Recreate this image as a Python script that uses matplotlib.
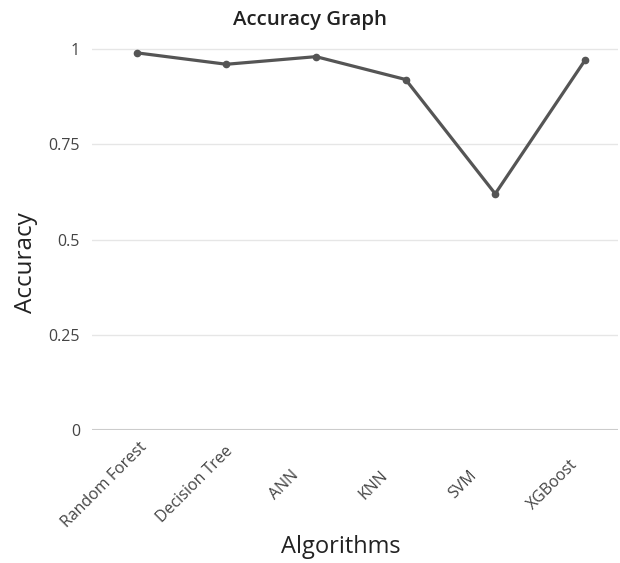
import matplotlib.pyplot as plt
from matplotlib.transforms import ScaledTranslation

algorithms = ['Random Forest', 'Decision Tree', 'ANN', 'KNN', 'SVM', 'XGBoost']
accuracy = [0.99, 0.96, 0.98, 0.92, 0.62, 0.97]
y_ticks = [0, 0.25, 0.5, 0.75, 1]
y_tick_labels = ['0', '0.25', '0.5', '0.75', '1']

plt.rcParams['font.family'] = ['Open Sans', 'DejaVu Sans']

W, H = 620, 563
fig = plt.figure(figsize=(W / 100, H / 100), dpi=100)
ax = fig.add_axes([92 / W, 133 / H, 526 / W, 392.4 / H])

x = list(range(len(algorithms)))
ax.plot(x, accuracy, color='#555555', linewidth=2.3, marker='o', markersize=4.5, zorder=3)

ax.set_xlim(-0.5, 5.37)
ax.set_ylim(0, 1.03)

ax.set_yticks(y_ticks)
ax.set_yticklabels(y_tick_labels)
ax.set_xticks(x)
ax.set_xticklabels(algorithms, rotation=45, ha='center', va='center', rotation_mode='anchor')

# grid like the plotly default
ax.yaxis.grid(True, color='#e6e6e6', linewidth=1)
ax.xaxis.grid(False)
ax.axhline(0, color='#cccccc', linewidth=1.5, zorder=2)
for s in ax.spines.values():
    s.set_visible(False)
ax.tick_params(axis='both', length=0, labelsize=11.5, colors='#444444')
ax.tick_params(axis='y', pad=8.6)
ax.tick_params(axis='x', pad=39.5)

# shift rotated labels to the left so they sit like in the original
shift = ScaledTranslation(-32 / 100, 0, fig.dpi_scale_trans)
for lbl in ax.get_xticklabels():
    lbl.set_transform(lbl.get_transform() + shift)

fig.text(0.5, 1 - 20 / H, 'Accuracy Graph', fontsize=14.7, color='#222222',
         ha='center', va='center', fontweight='semibold')
ax.set_xlabel('Algorithms', fontsize=17, color='#222222')
ax.xaxis.set_label_coords((341 - 92) / 526, -(547 - 430) / 392.4)
ax.xaxis.label.set_va('center')
ax.set_ylabel('Accuracy', fontsize=17.5, color='#222222')
ax.yaxis.set_label_coords((26 - 92) / 526, (430 - 263) / 392.4)
ax.yaxis.label.set_va('center')

fig.savefig('out.png', dpi=100)
